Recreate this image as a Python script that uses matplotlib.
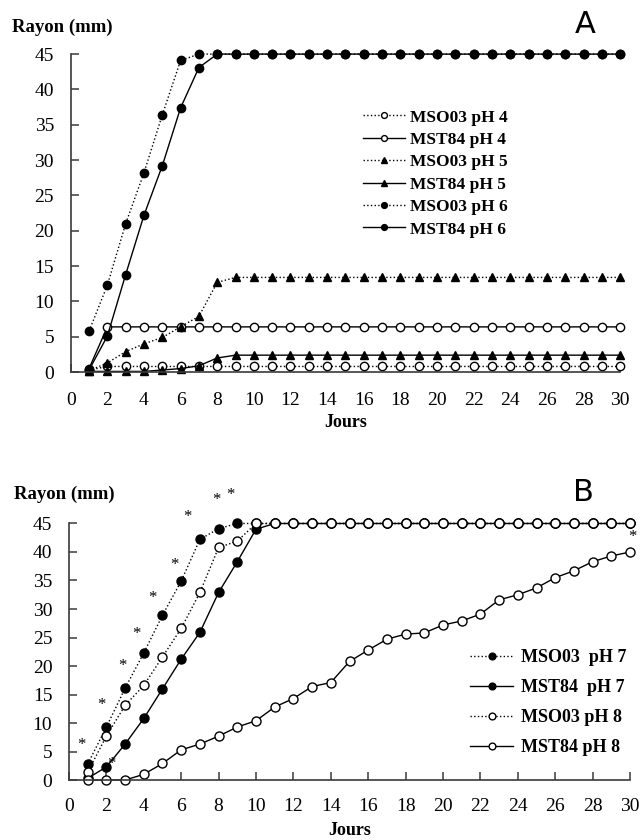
import matplotlib
matplotlib.use("Agg")
import matplotlib.pyplot as plt

plt.rcParams['font.family'] = ['Liberation Serif', 'DejaVu Serif']

days = list(range(1, 31))

# Panel A
a_mso03_ph4 = [0.3] + [0.8] * 29
a_mst84_ph4 = [0.5] + [6.4] * 29
a_mso03_ph5 = [0.2, 1.3, 2.9, 4.0, 4.9, 6.4, 7.9, 12.7] + [13.4] * 22
a_mst84_ph5 = [0.1, 0.1, 0.1, 0.1, 0.3, 0.5, 0.9, 2.0] + [2.4] * 22
a_mso03_ph6 = [5.8, 12.3, 21.0, 28.2, 36.4, 44.1] + [45.0] * 24
a_mst84_ph6 = [0.3, 5.1, 13.8, 22.2, 29.2, 37.4, 43.1] + [45.0] * 23

# Panel B
b_mso03_ph7 = [2.8, 9.3, 16.1, 22.3, 28.9, 34.9, 42.2, 44.1] + [45.0] * 22
b_mst84_ph7 = [0.3, 2.3, 6.3, 10.8, 16.0, 21.2, 25.9, 32.9, 38.3, 44.0] + [45.0] * 20
b_mso03_ph8 = [1.4, 7.7, 13.1, 16.6, 21.6, 26.6, 32.9, 40.8, 41.9] + [45.0] * 21
b_mst84_ph8 = [0.0, 0.0, 0.0, 1.0, 2.9, 5.3, 6.3, 7.7, 9.3, 10.4, 12.8, 14.3,
               16.4, 17.1, 20.8, 22.8, 24.7, 25.6, 25.8, 27.2, 27.9, 29.1,
               31.6, 32.5, 33.7, 35.5, 36.7, 38.3, 39.3, 40.0]

# significance asterisks (panel B)
star_x = [0.68, 1.75, 2.87, 2.29, 3.62, 4.46, 5.62, 6.34, 7.87, 8.62, 30.1]
star_y = [6.1, 13.2, 20.0, 2.75, 25.7, 32.0, 37.7, 46.2, 49.2, 50.0, 42.7]

xticks = list(range(0, 31, 2))
yticks = list(range(0, 46, 5))

fig = plt.figure(figsize=(6.4, 8.4), dpi=100)
axA = fig.add_axes([0.1105, 0.557, 0.8585, 0.3786])
axB = fig.add_axes([0.1078, 0.0714, 0.8766, 0.3054])

def style(ax, xpad, lpad):
    ax.set_xlim(0, 30)
    ax.set_ylim(0, 45)
    ax.set_xticks(xticks)
    ax.set_yticks(yticks)
    for s in ['top', 'right']:
        ax.spines[s].set_visible(False)
    for s in ['left', 'bottom']:
        ax.spines[s].set_color('#3a3a3a')
        ax.spines[s].set_linewidth(1.2)
    ax.tick_params(axis='y', direction='in', length=6, width=1.1, color='#3a3a3a',
                   pad=12, labelsize=14)
    ax.tick_params(axis='x', direction='in', length=6, width=1.1, color='#3a3a3a',
                   pad=xpad, labelsize=14)
    ax.set_xlabel('Jours', fontsize=13, fontweight='bold', labelpad=lpad)

style(axA, 14, 4)
style(axB, 13, 5)

ms = 6
kw = dict(color='black', lw=1.0, markeredgecolor='black', markeredgewidth=1.0,
          clip_on=False, markersize=ms)

axA.plot(days, a_mso03_ph4, ls=':', marker='o', markerfacecolor='white', label='MSO03 pH 4', **kw)
axA.plot(days, a_mst84_ph4, ls='-', marker='o', markerfacecolor='white', label='MST84 pH 4', **kw)
axA.plot(days, a_mso03_ph5, ls=':', marker='^', markerfacecolor='black', label='MSO03 pH 5', **kw)
axA.plot(days, a_mst84_ph5, ls='-', marker='^', markerfacecolor='black', label='MST84 pH 5', **kw)
axA.plot(days, a_mso03_ph6, ls=':', marker='o', markerfacecolor='black', label='MSO03 pH 6', **kw)
axA.plot(days, a_mst84_ph6, ls='-', marker='o', markerfacecolor='black', label='MST84 pH 6', **kw)

legA = axA.legend(loc='upper left', bbox_to_anchor=(0.52, 0.848), frameon=False,
                  prop={'family': 'Liberation Serif', 'weight': 'bold', 'size': 12.5},
                  handlelength=2.4, handletextpad=0.3, labelspacing=0.36, markerscale=0.7,
                  borderaxespad=0)

kwB = dict(kw)
kwB['markersize'] = 6.5
axB.plot(days, b_mso03_ph7, ls=':', marker='o', markerfacecolor='black', label='MSO03  pH 7', **kwB)
axB.plot(days, b_mst84_ph7, ls='-', marker='o', markerfacecolor='black', label='MST84  pH 7', **kwB)
axB.plot(days, b_mso03_ph8, ls=':', marker='o', markerfacecolor='white', label='MSO03 pH 8', **kwB)
axB.plot(days, b_mst84_ph8, ls='-', marker='o', markerfacecolor='white', label='MST84 pH 8', **kwB)

for sx, sy in zip(star_x, star_y):
    axB.text(sx, sy, '*', fontsize=12, ha='center', va='center', clip_on=False)

legB = axB.legend(loc='upper left', bbox_to_anchor=(0.715, 0.51), frameon=False,
                  prop={'family': 'Liberation Serif', 'weight': 'bold', 'size': 13},
                  handlelength=2.4, handletextpad=0.4, labelspacing=0.72, markerscale=0.75,
                  borderaxespad=0, borderpad=0)

fig.text(0.018, 0.968, 'Rayon (mm)', fontsize=13.5, fontweight='bold', va='center', ha='left')
fig.text(0.022, 0.411, 'Rayon (mm)', fontsize=13.5, fontweight='bold', va='center', ha='left')
fig.text(0.914, 0.971, 'A', fontsize=22, family='DejaVu Sans', va='center', ha='center')
fig.text(0.911, 0.414, 'B', fontsize=22, family='DejaVu Sans', va='center', ha='center')

fig.savefig('out.png', dpi=100)
